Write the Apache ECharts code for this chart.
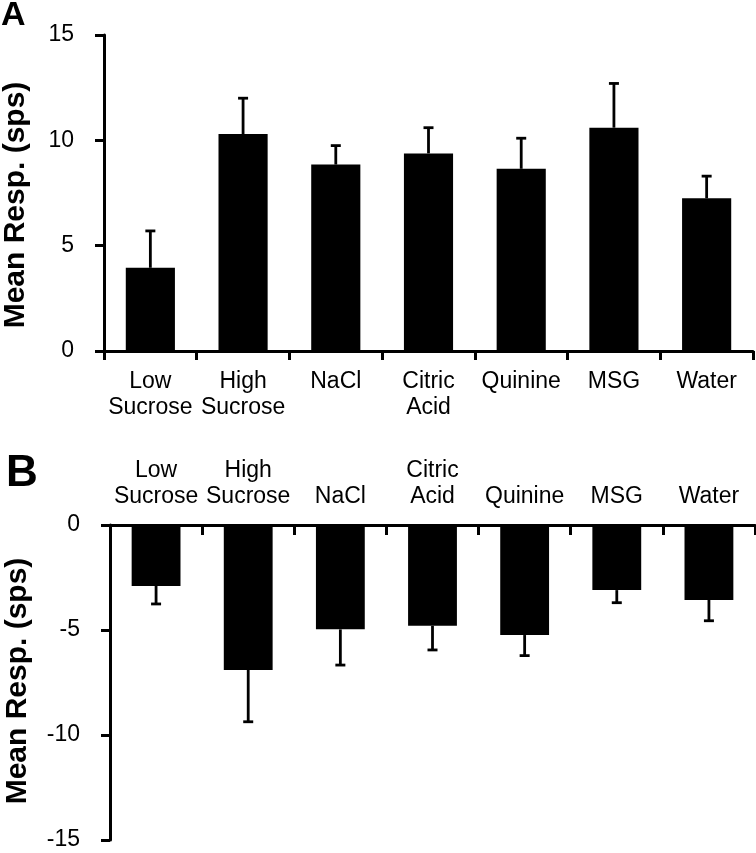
<!DOCTYPE html>
<html>
<head>
<meta charset="utf-8">
<script src="https://cdn.jsdelivr.net/npm/echarts@6/dist/echarts.min.js"></script>
<style>
html,body{margin:0;padding:0;background:#fff;}
#chart{width:756px;height:853px;}
</style>
</head>
<body>
<div id="chart"></div>
<script>
// ---- Data ----
const categories = ['Low\nSucrose', 'High\nSucrose', 'NaCl', 'Citric\nAcid', 'Quinine', 'MSG', 'Water'];
// Panel A: mean response (sps) and SEM
const meanA = [3.95, 10.3, 8.85, 9.38, 8.65, 10.6, 7.25];
const semA  = [1.75, 1.7, 0.9, 1.22, 1.45, 2.1, 1.05];
// Panel B: mean response (sps) and SEM
const meanB = [-2.9, -6.9, -4.97, -4.8, -5.24, -3.1, -3.57];
const semB  = [0.86, 2.47, 1.7, 1.15, 0.98, 0.6, 0.99];
// Axis ticks
const yTicksA = {min: 0, max: 15, interval: 5};
const yTicksB = {min: -15, max: 0, interval: 5};
const yTitle = 'Mean Resp. (sps)';

const FONT = "'Liberation Sans', Arial, Helvetica, sans-serif";
const AXIS_W = 3;

function errData(means, sems) {
  return means.map((m, i) => [i, m, m + (m >= 0 ? sems[i] : -sems[i])]);
}

function renderErr(params, api) {
  const x = api.value(0), y = api.value(1), e = api.value(2);
  const p0 = api.coord([x, y]);
  const p1 = api.coord([x, e]);
  const cap = 5;
  return {
    type: 'group',
    children: [
      {type: 'line', shape: {x1: p0[0], y1: p0[1], x2: p1[0], y2: p1[1]},
       style: {stroke: '#000', lineWidth: 2.8}},
      {type: 'line', shape: {x1: p1[0] - cap, y1: p1[1], x2: p1[0] + cap, y2: p1[1]},
       style: {stroke: '#000', lineWidth: 2.8}}
    ]
  };
}

const axisLine = {show: true, lineStyle: {color: '#000', width: AXIS_W}};
const catLabel = {color: '#000', fontFamily: FONT, fontSize: 23, lineHeight: 26, interval: 0};
const numLabel = {color: '#000', fontFamily: FONT, fontSize: 23, margin: 30, align: 'right'};

const chart = echarts.init(document.getElementById('chart'), null, {renderer: 'canvas'});
chart.setOption({
  animation: false,
  backgroundColor: '#fff',
  grid: [
    {left: 104, top: 35, width: 649, height: 316, containLabel: false},
    {left: 110, top: 525, width: 645, height: 315, containLabel: false}
  ],
  xAxis: [
    {gridIndex: 0, type: 'category', data: categories, position: 'bottom',
     boundaryGap: true, axisLine: axisLine,
     axisTick: {show: true, inside: false, length: 9, lineStyle: {color: '#000', width: AXIS_W}},
     axisLabel: Object.assign({margin: 18}, catLabel), splitLine: {show: false}},
    {gridIndex: 1, type: 'category', data: categories, position: 'top',
     boundaryGap: true, axisLine: axisLine,
     axisTick: {show: true, inside: true, length: 10, lineStyle: {color: '#000', width: AXIS_W}},
     axisLabel: Object.assign({margin: 15}, catLabel), splitLine: {show: false}}
  ],
  yAxis: [
    {gridIndex: 0, type: 'value', min: yTicksA.min, max: yTicksA.max, interval: yTicksA.interval,
     axisLine: axisLine,
     axisTick: {show: true, inside: false, length: 9, lineStyle: {color: '#000', width: AXIS_W}},
     axisLabel: numLabel, splitLine: {show: false}},
    {gridIndex: 1, type: 'value', min: yTicksB.min, max: yTicksB.max, interval: yTicksB.interval,
     axisLine: axisLine,
     axisTick: {show: true, inside: false, length: 9, lineStyle: {color: '#000', width: AXIS_W}},
     axisLabel: numLabel, splitLine: {show: false}}
  ],
  graphic: [
    {type: 'text', left: 1, top: -1,
     style: {text: 'A', font: "bold 34px " + FONT, fill: '#000'}},
    {type: 'text', left: 6, top: 452,
     style: {text: 'B', font: "bold 44px " + FONT, fill: '#000'}},
    {type: 'text', x: 16, y: 205, rotation: Math.PI / 2,
     style: {text: yTitle, font: "bold 30px " + FONT, fill: '#000', align: 'center', verticalAlign: 'middle'}},
    {type: 'text', x: 18, y: 681, rotation: Math.PI / 2,
     style: {text: yTitle, font: "bold 30px " + FONT, fill: '#000', align: 'center', verticalAlign: 'middle'}}
  ],
  series: [
    {type: 'bar', xAxisIndex: 0, yAxisIndex: 0, data: meanA, barWidth: '53%',
     itemStyle: {color: '#000'}, z: 2},
    {type: 'custom', xAxisIndex: 0, yAxisIndex: 0, data: errData(meanA, semA),
     renderItem: renderErr, encode: {x: 0, y: [1, 2]}, z: 3},
    {type: 'bar', xAxisIndex: 1, yAxisIndex: 1, data: meanB, barWidth: '53%',
     itemStyle: {color: '#000'}, z: 2},
    {type: 'custom', xAxisIndex: 1, yAxisIndex: 1, data: errData(meanB, semB),
     renderItem: renderErr, encode: {x: 0, y: [1, 2]}, z: 3}
  ]
});
</script>
</body>
</html>
